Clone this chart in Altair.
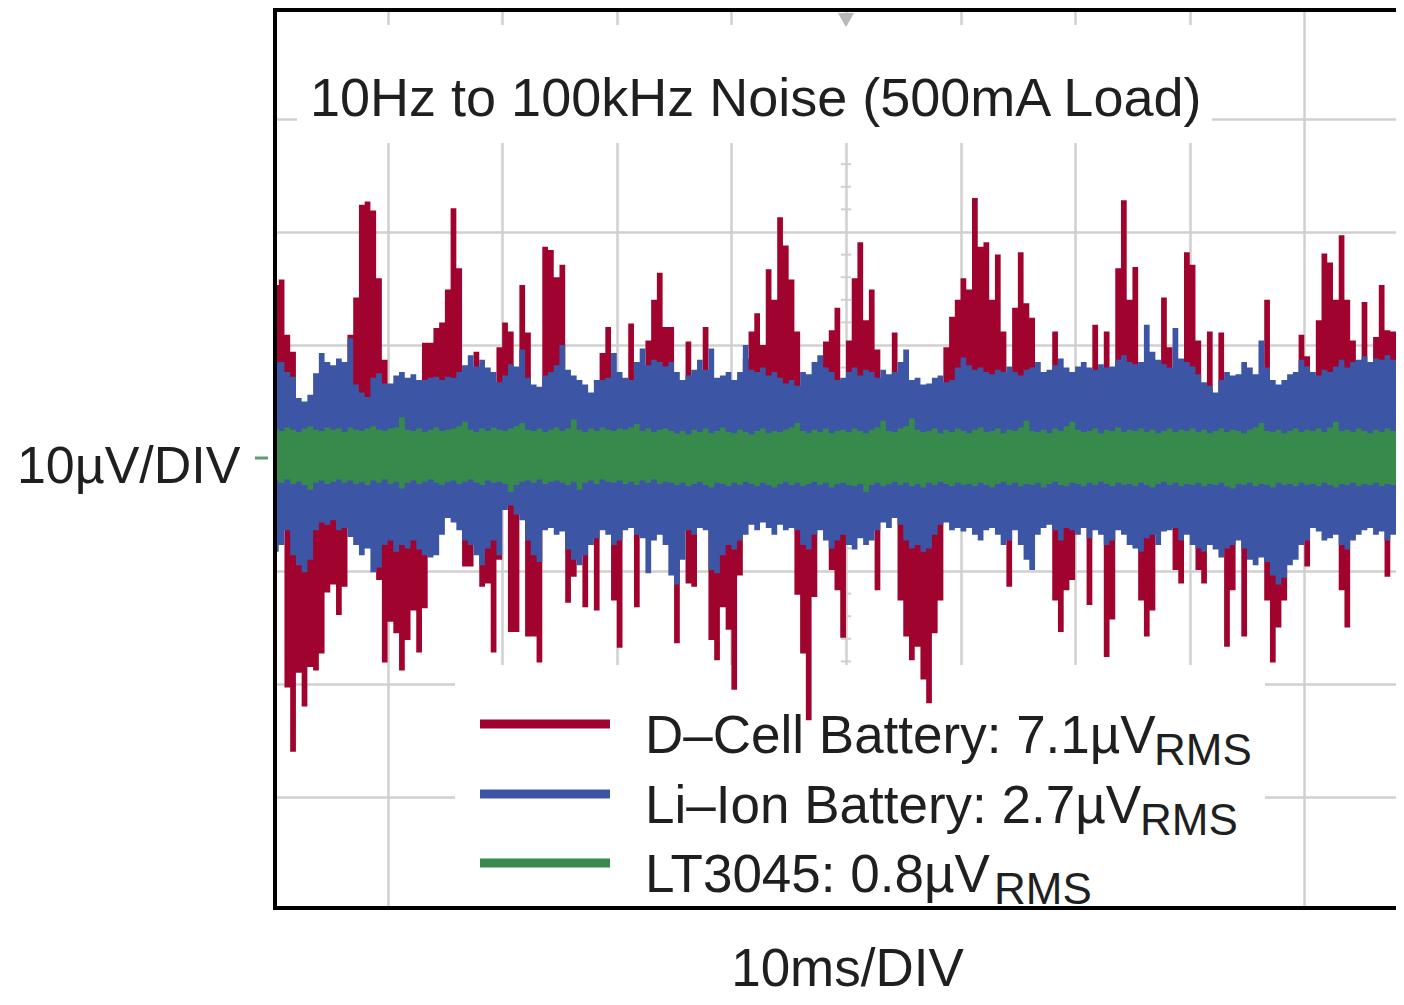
import altair as alt
import pandas as pd

# ---------------- data (µV, one value per 0.5 ms bin) ----------------
# D-Cell battery envelope (upper / lower extent in each bin)
dcell_top = [
    15.3, 15.8, 10.9, 9.4, 4, 4, 4, 4, 4, 4,
    4, 4, 4, 10.9, 14.2, 22.4, 22.7, 21.9, 15.9, 8.7,
    4, 4, 4, 4, 4, 4, 10.2, 10.2, 11.5, 12.0,
    14.9, 22.1, 16.8, 4, 4, 9.4, 4, 4, 4, 9.8,
    12.0, 11.2, 4, 15.3, 11.1, 4, 4, 18.7, 18.4, 16.0,
    17.1, 4, 4, 4, 4, 4, 4, 9.3, 11.6, 4,
    4, 4, 11.9, 4, 4, 10.4, 14.0, 16.4, 11.6, 11.6,
    4, 4, 10.3, 4, 4, 11.6, 4, 4, 4, 4,
    4, 4, 8.8, 11.2, 12.8, 10.0, 16.7, 14.0, 21.3, 18.8,
    15.8, 11.2, 4, 4, 4, 4, 10.3, 11.3, 13.3, 4,
    10.4, 15.9, 19.1, 12.2, 14.9, 9.6, 4, 4, 11.1, 4,
    4, 4, 4, 4, 4, 4, 4, 9.8, 12.5, 14.0,
    15.9, 14.9, 23.0, 18.7, 19.1, 14.0, 18.0, 11.2, 4, 13.3,
    18.2, 13.7, 12.4, 4, 4, 4, 11.2, 4, 4, 4,
    4, 4, 4, 11.8, 4, 11.2, 4, 16.8, 22.8, 14.0,
    16.9, 4, 4, 4, 4, 14.2, 9.8, 4, 4, 18.2,
    17.1, 10.4, 4, 11.2, 4, 11.1, 4, 4, 4, 4,
    4, 4, 4, 14.0, 4, 4, 4, 4, 4, 10.9,
    9.0, 4, 12.2, 18.1, 17.3, 14.0, 19.7, 14.0, 10.4, 4,
    13.8, 4, 10.7, 15.3, 11.3, 11.2, 4, 14.0,
]
dcell_bot = [
    -4, -4, -20.3, -26.0, -19.0, -22.0, -18.5, -18.8, -17.3, -11.9,
    -11.2, -13.9, -11.4, -4, -4, -4, -4, -4, -10.8, -18.1,
    -14.5, -15.5, -18.8, -16.1, -13.5, -17.2, -13.3, -4, -4, -4,
    -4, -4, -4, -9.6, -9.6, -4, -11.4, -11.1, -17.2, -9.0,
    -4, -15.4, -15.4, -4, -15.8, -15.8, -18.1, -4, -4, -4,
    -4, -12.8, -10.5, -4, -13.2, -4, -13.5, -4, -4, -12.6,
    -16.8, -4, -4, -13.2, -4, -4, -4, -4, -4, -4,
    -16.4, -4, -11.1, -11.4, -4, -4, -16.1, -17.9, -13.2, -15.2,
    -20.5, -10.4, -4, -4, -4, -4, -4, -4, -4, -4,
    -4, -12.1, -17.3, -23.2, -12.3, -4, -4, -9.9, -11.7, -15.9,
    -4, -4, -4, -4, -4, -11.7, -4, -4, -4, -12.6,
    -15.8, -17.9, -16.7, -19.6, -21.7, -15.5, -12.6, -4, -4, -4,
    -4, -4, -4, -4, -4, -4, -4, -4, -11.4, -4,
    -4, -4, -4, -4, -4, -4, -12.6, -15.4, -11.7, -10.8,
    -4, -4, -13.0, -4, -4, -17.6, -14.3, -4, -4, -4,
    -4, -12.6, -15.8, -13.5, -4, -4, -4, -9.9, -11.1, -4,
    -4, -9.9, -11.1, -4, -4, -4, -16.7, -11.7, -4, -15.8,
    -4, -4, -4, -12.6, -18.1, -15.0, -12.6, -4, -4, -4,
    -9.6, -4, -4, -4, -4, -4, -11.7, -15.0, -4, -4,
    -4, -4, -4, -4, -10.5, -4, -4, -4,
]
# Li-Ion battery envelope
liion_top = [
    8.5, 8.5, 7.6, 7.2, 5.3, 5.0, 5.6, 7.5, 9.3, 8.5,
    8.2, 8.8, 8.5, 10.6, 6.5, 5.8, 5.4, 7.1, 7.5, 6.6,
    6.6, 7.3, 7.6, 7.1, 7.4, 6.9, 6.9, 7.1, 7.2, 6.9,
    7.2, 7.1, 7.6, 8.2, 9.1, 8.1, 8.7, 8.0, 7.6, 6.7,
    7.3, 8.3, 8.1, 9.6, 7.1, 6.5, 6.3, 7.3, 7.6, 8.2,
    10.0, 7.8, 7.3, 6.9, 6.5, 5.8, 6.9, 6.9, 7.1, 9.3,
    7.6, 7.1, 6.9, 8.5, 9.7, 8.2, 8.7, 8.5, 8.1, 8.5,
    7.6, 6.9, 7.3, 7.8, 8.7, 7.8, 9.7, 7.1, 7.3, 7.6,
    6.9, 7.6, 10.0, 7.8, 7.6, 8.0, 7.3, 7.6, 7.1, 6.6,
    6.9, 6.4, 7.6, 7.4, 8.5, 9.1, 8.0, 7.6, 6.9, 7.1,
    7.6, 8.0, 7.3, 7.8, 7.6, 7.1, 7.8, 7.4, 7.6, 8.5,
    9.6, 6.9, 7.1, 6.5, 6.6, 7.1, 7.3, 6.7, 6.9, 8.0,
    8.9, 8.2, 7.8, 8.0, 7.6, 7.4, 7.8, 7.6, 8.1, 7.6,
    7.3, 7.8, 8.0, 8.5, 7.6, 7.8, 8.2, 8.8, 8.0, 7.6,
    8.1, 8.5, 8.0, 7.8, 8.3, 8.0, 8.1, 8.7, 9.1, 8.5,
    8.3, 8.5, 11.8, 9.4, 8.7, 8.3, 8.0, 11.5, 8.8, 8.5,
    8.1, 7.4, 6.7, 6.4, 5.8, 6.9, 7.6, 7.3, 7.4, 8.5,
    8.0, 7.4, 10.4, 8.0, 6.9, 6.5, 6.9, 7.4, 7.6, 8.7,
    8.1, 7.6, 7.3, 7.8, 7.6, 8.1, 8.7, 8.0, 8.5, 8.7,
    9.0, 8.5, 8.8, 8.7, 9.1, 8.7, 8.8, 8.5,
]
liion_bot = [
    -8.3, -7.7, -6.4, -8.6, -9.5, -10.1, -9.0, -6.4, -5.7, -5.9,
    -5.5, -6.4, -6.2, -7.0, -7.7, -8.6, -8.0, -10.1, -9.7, -7.7,
    -7.3, -8.3, -7.7, -8.0, -7.3, -8.1, -8.6, -8.8, -8.6, -6.8,
    -5.3, -5.7, -6.4, -7.3, -7.7, -8.6, -9.5, -8.0, -7.3, -8.6,
    -4.6, -4.2, -5.0, -5.5, -7.3, -8.6, -9.2, -6.4, -6.2, -6.8,
    -6.5, -8.1, -9.0, -9.5, -8.6, -7.7, -7.1, -6.4, -6.8, -7.7,
    -7.3, -6.4, -6.2, -6.8, -7.1, -10.2, -7.3, -6.8, -7.7, -10.4,
    -11.2, -9.0, -6.4, -6.8, -6.2, -6.4, -9.9, -10.2, -8.6, -7.7,
    -8.1, -7.3, -6.8, -5.9, -6.4, -5.7, -6.2, -6.8, -5.9, -6.4,
    -6.2, -6.4, -7.7, -8.1, -6.8, -6.4, -7.3, -8.0, -7.3, -6.8,
    -7.7, -8.1, -7.1, -7.7, -7.3, -6.4, -5.7, -6.2, -5.3, -5.9,
    -7.3, -8.0, -7.7, -8.3, -8.0, -6.8, -5.9, -5.7, -6.4, -6.2,
    -6.5, -6.2, -6.8, -7.3, -6.4, -6.2, -6.8, -7.7, -7.3, -6.4,
    -7.7, -9.0, -9.9, -6.8, -6.2, -5.9, -6.4, -7.3, -6.2, -6.4,
    -6.8, -6.2, -7.1, -6.4, -6.8, -7.7, -7.3, -6.4, -6.8, -7.7,
    -8.0, -8.3, -7.1, -6.8, -7.7, -6.5, -6.4, -6.2, -7.3, -6.8,
    -7.7, -8.0, -8.3, -7.7, -8.1, -8.8, -8.0, -7.7, -7.3, -8.0,
    -9.0, -9.5, -8.8, -9.2, -10.4, -11.2, -10.6, -9.5, -9.0, -7.7,
    -7.3, -6.2, -6.5, -7.3, -7.1, -6.8, -7.7, -8.1, -7.3, -6.8,
    -6.4, -6.2, -6.8, -6.5, -7.3, -6.8, -6.4, -6.2,
]
# LT3045 envelope
lt3045_top = [
    2.6, 2.4, 2.7, 2.5, 2.3, 2.6, 2.8, 2.5, 2.4, 2.7,
    2.5, 2.6, 2.3, 2.7, 2.5, 2.4, 2.6, 2.8, 2.5, 2.4,
    2.6, 2.7, 3.6, 2.5, 2.4, 2.6, 2.3, 2.5, 2.7, 2.4,
    2.5, 2.6, 2.8, 3.2, 2.5, 2.3, 2.6, 2.4, 2.7, 2.5,
    2.4, 2.6, 2.8, 3.1, 2.5, 2.4, 2.6, 2.3, 2.5, 2.7,
    2.4, 2.6, 3.4, 2.5, 2.3, 2.6, 2.4, 2.7, 2.5, 2.4,
    2.6, 2.5, 2.7, 3.0, 2.4, 2.6, 2.3, 2.5, 2.6, 2.4,
    2.2, 2.4, 2.1, 2.5, 2.3, 2.6, 2.2, 2.4, 2.7, 2.3,
    2.2, 2.5, 2.3, 2.1, 2.4, 2.6, 2.2, 2.4, 2.3, 2.5,
    2.7, 3.1, 2.4, 2.2, 2.5, 2.3, 2.6, 2.2, 2.4, 2.5,
    2.3, 2.6, 2.4, 2.2, 2.5, 2.7, 3.3, 2.4, 2.3, 2.6,
    2.8, 3.5, 2.5, 2.3, 2.4, 2.6, 2.2, 2.5, 2.3, 2.6,
    2.4, 2.2, 2.5, 2.7, 2.3, 2.4, 2.6, 2.2, 2.5, 2.4,
    2.7, 3.3, 2.4, 2.3, 2.5, 2.2, 2.6, 2.4, 2.8, 3.2,
    2.5, 2.3, 2.4, 2.6, 2.2, 2.5, 2.4, 2.7, 2.3, 2.5,
    2.4, 2.6, 2.3, 2.5, 2.2, 2.4, 2.6, 2.3, 2.5, 2.4,
    2.6, 2.3, 2.5, 2.2, 2.4, 2.6, 2.3, 2.5, 2.4, 2.2,
    2.5, 2.7, 3.1, 2.4, 2.3, 2.5, 2.2, 2.4, 2.6, 2.3,
    2.5, 2.4, 2.6, 2.3, 2.7, 3.2, 2.4, 2.5, 2.3, 2.6,
    2.4, 2.2, 2.5, 2.3, 2.6, 2.4, 2.5, 2.3,
]
lt3045_bot = [
    -2.0, -2.2, -1.9, -2.3, -2.1, -2.4, -2.8, -2.2, -2.0, -2.3,
    -2.1, -1.9, -2.2, -2.0, -2.3, -2.1, -2.4, -2.0, -2.2, -1.9,
    -2.3, -2.1, -2.7, -2.2, -2.0, -2.3, -2.1, -1.9, -2.2, -2.4,
    -2.1, -2.0, -2.3, -2.1, -1.9, -2.2, -2.4, -2.0, -2.2, -2.1,
    -2.3, -3.0, -2.4, -2.1, -2.0, -2.2, -1.9, -2.3, -2.1, -2.0,
    -2.2, -2.4, -2.1, -2.8, -2.2, -2.0, -2.3, -1.9, -2.1, -2.2,
    -2.0, -2.3, -2.1, -2.4, -2.0, -2.2, -1.9, -2.3, -2.1, -2.2,
    -2.4, -2.2, -2.5, -2.3, -2.1, -2.4, -2.6, -2.2, -2.3, -2.5,
    -2.2, -2.4, -2.1, -2.3, -2.5, -2.2, -2.4, -2.6, -2.3, -2.1,
    -2.4, -2.2, -2.5, -2.3, -2.1, -2.4, -2.2, -2.6, -2.3, -2.2,
    -2.4, -2.5, -2.3, -3.0, -2.4, -2.2, -2.5, -2.3, -2.1, -2.4,
    -2.2, -2.5, -2.3, -2.6, -2.2, -2.4, -2.1, -2.3, -2.5, -2.2,
    -2.4, -2.3, -2.5, -2.2, -2.4, -2.6, -2.3, -2.1, -2.4, -2.2,
    -2.5, -2.3, -2.4, -2.2, -2.6, -2.3, -2.1, -2.4, -2.5, -2.2,
    -2.3, -2.5, -2.2, -2.4, -2.1, -2.3, -2.5, -2.2, -2.4, -2.3,
    -2.5, -2.2, -2.4, -2.6, -2.3, -2.1, -2.4, -2.2, -2.5, -2.3,
    -2.4, -2.2, -2.5, -2.3, -2.4, -2.2, -2.5, -2.7, -2.3, -2.4,
    -2.2, -2.5, -2.3, -2.4, -2.6, -2.2, -2.4, -2.3, -2.5, -2.2,
    -2.4, -2.3, -2.5, -2.2, -2.4, -2.6, -2.3, -2.4, -2.2, -2.5,
    -2.3, -2.4, -2.2, -2.5, -2.3, -2.4, -2.2, -2.4,
]

BIN_MS = 0.5
time_ms = [i * BIN_MS for i in range(len(dcell_top))]

x_grid_ms = [10, 20, 30, 40, 50, 60, 70, 80, 90]
y_grid_uv = [-30, -20, -10, 0, 10, 20, 30]
center_minor_uv = [-18, -16, -14, -12, -8, -6, -4, -2, 2, 4, 6, 8,
                   12, 14, 16, 18, 22, 24, 26]

title_text = "10Hz to 100kHz Noise (500mA Load)"
legend_main = ["D\u2013Cell Battery: 7.1\u00b5V", "Li\u2013Ion Battery: 2.7\u00b5V", "LT3045: 0.8\u00b5V"]
legend_sub = "RMS"
x_title = "10ms/DIV"
y_title = "10\u00b5V/DIV"

# ---------------- styling ----------------
RED, BLUE, GREEN = "#a0042e", "#3c55a5", "#378a4b"
TXT = "#1f1f1f"
GRID = "#d0d0d0"
FONT = "Liberation Sans"
W, H = 1123, 900
X_MAX = 98.0
Y_MAX = 39.82

xs = alt.Scale(domain=[0, X_MAX], nice=False, zero=False)
ys = alt.Scale(domain=[-Y_MAX, Y_MAX], nice=False, zero=False)

x_axis = alt.Axis(values=x_grid_ms, grid=True, gridColor=GRID, gridWidth=2.5,
                  domain=False, ticks=False, labels=False,
                  title=x_title, titleFont=FONT, titleFontSize=53, titleFontWeight="normal",
                  titleColor=TXT, titleX=574, titleY=77, titleAlign="center",
                  titleBaseline="alphabetic")
y_axis = alt.Axis(values=y_grid_uv, grid=True, gridColor=GRID, gridWidth=2.5,
                  domain=False, ticks=False, labels=False,
                  title=y_title, titleFont=FONT, titleFontSize=52, titleFontWeight="normal",
                  titleColor=TXT, titleAngle=0, titleX=-33, titleY=474, titleAlign="right",
                  titleBaseline="alphabetic")

one = pd.DataFrame({"a": [0]})

layers = []

# minor ticks on the centre graticule line
layers.append(
    alt.Chart(pd.DataFrame({"v": center_minor_uv})).mark_rule(color=GRID, strokeWidth=2).encode(
        x=alt.X(datum=49.55, scale=xs, axis=x_axis),
        x2=alt.datum(50.45),
        y=alt.Y("v:Q", scale=ys, axis=y_axis),
    )
)

# white boxes behind title and legend
layers.append(alt.Chart(one).mark_rect(color="white").encode(
    x=alt.value(24), x2=alt.value(939), y=alt.value(17), y2=alt.value(135)))
layers.append(alt.Chart(one).mark_rect(color="white").encode(
    x=alt.value(182), x2=alt.value(992), y=alt.value(657), y2=alt.value(H)))

# trigger marker
layers.append(alt.Chart(one).mark_point(shape="triangle-down", filled=True, size=260,
                                        color="#b8b8b8", opacity=1).encode(
    x=alt.datum(50), y=alt.value(12)))


def trace(top, bot, color):
    df = pd.DataFrame({"t": time_ms, "top": top, "bot": bot})
    return alt.Chart(df).mark_area(interpolate="step-after", color=color, opacity=1, clip=True).encode(
        x=alt.X("t:Q", scale=xs, axis=x_axis),
        y=alt.Y("top:Q", scale=ys, axis=y_axis),
        y2="bot:Q",
    )


layers.append(trace(dcell_top, dcell_bot, RED))
layers.append(trace(liion_top, liion_bot, BLUE))
layers.append(trace(lt3045_top, lt3045_bot, GREEN))

# frame (left, top, bottom)
layers.append(alt.Chart(one).mark_rule(color="black", strokeWidth=4).encode(
    x=alt.value(2), y=alt.value(0), y2=alt.value(H)))
layers.append(alt.Chart(one).mark_rule(color="black", strokeWidth=4).encode(
    x=alt.value(0), x2=alt.value(W), y=alt.value(2)))
layers.append(alt.Chart(one).mark_rule(color="black", strokeWidth=4).encode(
    x=alt.value(0), x2=alt.value(W), y=alt.value(H)))

# channel zero marker
layers.append(alt.Chart(one).mark_rule(color="#5d9c74", strokeWidth=3).encode(
    x=alt.value(-18), x2=alt.value(-5), y=alt.datum(0)))

# title
layers.append(alt.Chart(one).mark_text(font=FONT, fontSize=54, align="left", baseline="alphabetic",
                                       color=TXT).encode(
    x=alt.value(37), y=alt.value(108), text=alt.value(title_text)))

# legend
colors = [RED, BLUE, GREEN]
swatch_y = [716, 786, 855]
main_y = [745, 815, 884]
sub_x = [881, 867, 721]
sub_y = [757, 827, 896]
for i in range(3):
    layers.append(alt.Chart(one).mark_rule(color=colors[i], strokeWidth=9).encode(
        x=alt.value(207), x2=alt.value(337), y=alt.value(swatch_y[i])))
    layers.append(alt.Chart(one).mark_text(font=FONT, fontSize=53, align="left",
                                           baseline="alphabetic", color=TXT).encode(
        x=alt.value(372), y=alt.value(main_y[i]), text=alt.value(legend_main[i])))
    layers.append(alt.Chart(one).mark_text(font=FONT, fontSize=44, align="left",
                                           baseline="alphabetic", color=TXT).encode(
        x=alt.value(sub_x[i]), y=alt.value(sub_y[i]), text=alt.value(legend_sub)))

chart = alt.layer(*layers).properties(
    width=W, height=H,
    autosize=alt.AutoSizeParams(type="none"),
    padding={"left": 265, "top": 0, "right": 0, "bottom": 89},
    background="white",
).configure_view(strokeWidth=0)

chart.save("out.html", embed_options={"renderer": "svg", "actions": False})
